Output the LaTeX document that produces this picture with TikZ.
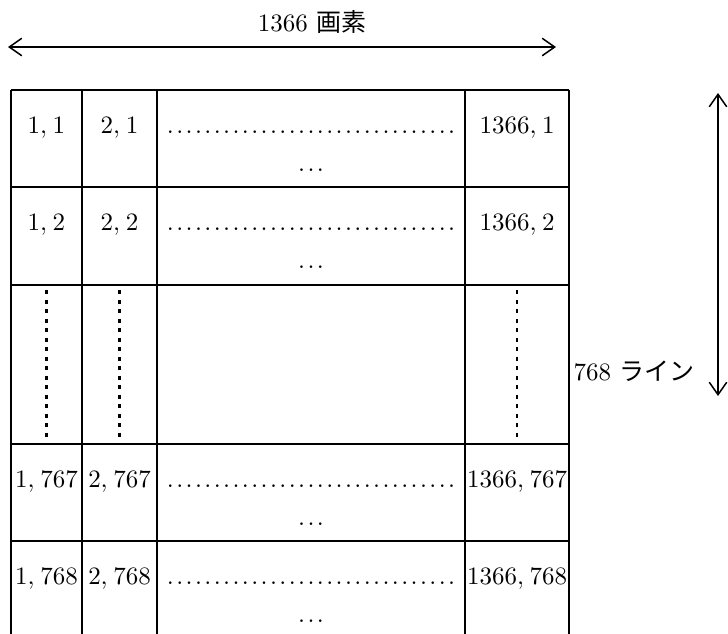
\documentclass[tikz,border=0pt]{standalone}
\usepackage{fontspec}
\newfontfamily\jpfont{Noto Sans CJK JP}
\usetikzlibrary{arrows.meta}

\tikzset{
 cell/.style={anchor=base,inner sep=0pt},
 waku/.style={line width=0.8pt},
 yajirushi/.style={line width=0.6pt,{Straight Barb[length=5pt,width=7pt]}-{Straight Barb[length=5pt,width=7pt]}},
 tate/.style={dash pattern=on 1.6pt off 2.2pt}
}
\newcommand{\tenretsu}[1]{\hbox to #1{\leaders\hbox to 3.75pt{\hss.\hss}\hfill}}
\newcommand{\zahyo}[2]{$#1{,}\:#2$}

\begin{document}
\begin{tikzpicture}[x=0.4pt,y=-0.4pt]
 \useasboundingbox (0,0) rectangle (728,634);
 \coordinate (HL) at (8,47); %横矢印左端
 \coordinate (HR) at (556,47); %横矢印右端
 \coordinate (VT) at (718,93); %縦矢印上端
 \coordinate (VB) at (718,396); %縦矢印下端
 \draw[yajirushi] (HL)--(HR); %横矢印
 \draw[yajirushi] (VT)--(VB); %縦矢印
 \node[cell] (gaso) at (312,31) {1366 {\jpfont 画素}};
 \node[cell,anchor=base west] (line) at (573,380) {768 {\jpfont ライン}};

 \foreach \xx in {11,82,157,465,569}
  \draw[waku] (\xx,90)--(\xx,634); %縦線
 \foreach \yy in {90,187,285,444,541}
  \draw[waku] (11,\yy)--(569,\yy); %横線

 \foreach \r/\yy in {1/90,2/187,767/444,768/541}{
  \node[cell] (a\r) at (46.5,\yy+43) {\zahyo{1}{\r}};
  \node[cell] (b\r) at (119.5,\yy+43) {\zahyo{2}{\r}};
  \node[cell] (m\r) at (311,\yy+43) {\tenretsu{116.25pt}};
  \node[cell] (s\r) at (311,\yy+81) {\tenretsu{11.25pt}};
  \node[cell] (z\r) at (517,\yy+43) {\zahyo{1366}{\r}};
 }

 \draw[tate,line width=1.2pt] (46.5,290)--(46.5,441);
 \draw[tate,line width=1.2pt] (119.5,290)--(119.5,441);
 \draw[tate,line width=0.8pt] (517,290)--(517,441);
\end{tikzpicture}
\end{document}
